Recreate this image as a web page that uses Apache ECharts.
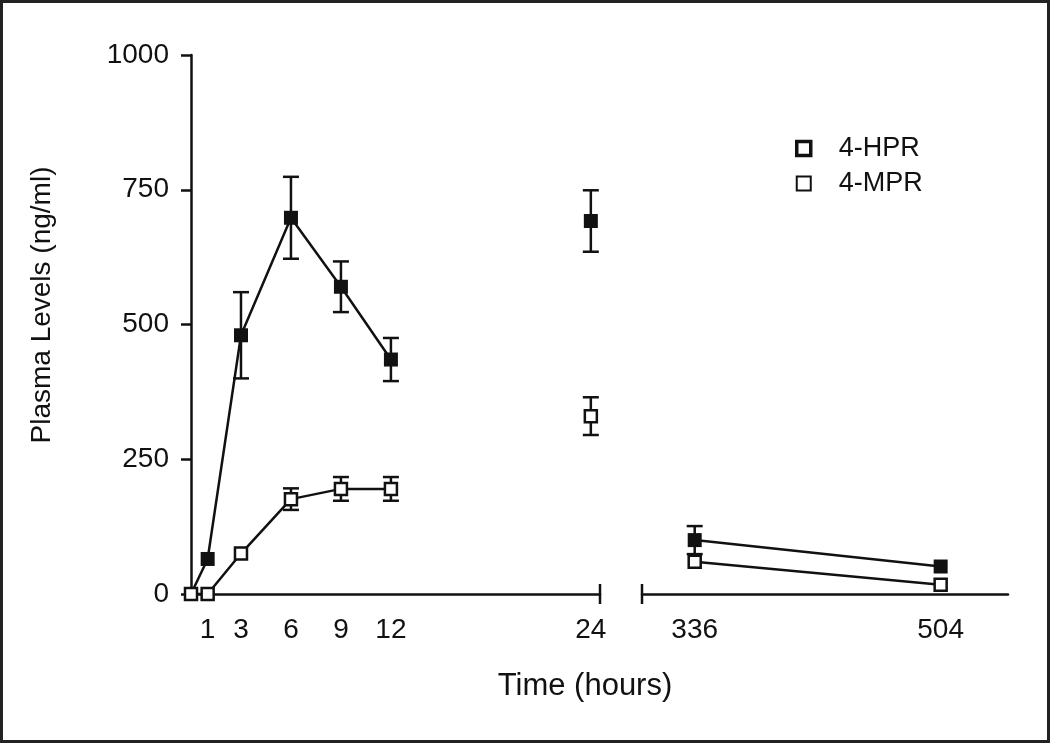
<!DOCTYPE html>
<html>
<head>
<meta charset="utf-8">
<script src="https://cdn.jsdelivr.net/npm/echarts@6/dist/echarts.min.js"></script>
<style>
  html, body { margin: 0; padding: 0; background: #fff; }
  #chart { width: 1050px; height: 743px; }
</style>
</head>
<body>
<div id="chart"></div>
<script>
// sampling times (hours) and plasma levels (ng/ml), mean and error half-width
var times   = [0, 1, 3, 6, 9, 12, 24, 336, 504];
var hprMean = [0, 65, 480, 698, 570, 435, 692, 100, 51];
var hprErr  = [0, 0, 80, 76, 47, 40, 57, 26, 0];
var mprMean = [0, 0, 75, 176, 195, 195, 330, 60, 17];
var mprErr  = [0, 0, 0, 20, 22, 22, 35, 0, 0];

var xTicksEarly = [1, 3, 6, 9, 12, 24];
var xTicksLate  = [336, 504];
var yTicks      = [0, 250, 500, 750, 1000];

var INK = '#111';
var FONT = 'Liberation Sans';

// which piece of the broken axis each time belongs to
function pick(values, test) {
    var out = [];
    for (var i = 0; i < times.length; i++) {
        if (test(times[i])) out.push([times[i], values[i]]);
    }
    return out;
}
function bars(mean, err, test) {
    var out = [];
    for (var i = 0; i < times.length; i++) {
        if (test(times[i]) && err[i] > 0) out.push([times[i], mean[i] - err[i], mean[i] + err[i]]);
    }
    return out;
}
var isLine = function (t) { return t <= 12; };
var isLone = function (t) { return t === 24; };
var isLate = function (t) { return t >= 336; };
var isEarly = function (t) { return t <= 24; };

function errorBars(name, data, grid) {
    return {
        name: name,
        type: 'custom',
        xAxisIndex: grid,
        yAxisIndex: grid,
        z: 1,
        data: data,
        renderItem: function (params, api) {
            var x = api.value(0);
            var lo = api.coord([x, api.value(1)]);
            var hi = api.coord([x, api.value(2)]);
            var w = 8;
            var st = { stroke: INK, lineWidth: 2.5 };
            return {
                type: 'group',
                children: [
                    { type: 'line', shape: { x1: lo[0], y1: lo[1], x2: hi[0], y2: hi[1] }, style: st },
                    { type: 'line', shape: { x1: hi[0] - w, y1: hi[1], x2: hi[0] + w, y2: hi[1] }, style: st },
                    { type: 'line', shape: { x1: lo[0] - w, y1: lo[1], x2: lo[0] + w, y2: lo[1] }, style: st }
                ]
            };
        }
    };
}

var hprStyle = { color: INK, opacity: 1 };
var mprStyle = { color: '#fff', borderColor: INK, borderWidth: 2.5, opacity: 1 };

function marks(name, type, data, grid, style, size, z) {
    return {
        name: name,
        type: type,
        xAxisIndex: grid,
        yAxisIndex: grid,
        data: data,
        symbol: 'rect',
        symbolSize: size,
        showSymbol: true,
        itemStyle: style,
        lineStyle: { color: INK, width: 2.5 },
        z: z,
        silent: true
    };
}

var axisLineStyle = { color: INK, width: 2.5 };
var labelStyle = { fontSize: 28, color: INK, fontFamily: FONT };

var chartDom = document.getElementById('chart');
var chart = echarts.init(chartDom);

var option = {
    animation: false,
    backgroundColor: '#fff',
    textStyle: { fontFamily: FONT },
    grid: [
        { left: 191, top: 55, width: 409, height: 539 },
        { left: 642, top: 55, width: 366, height: 539 }
    ],
    legend: {
        orient: 'vertical',
        left: 790,
        top: 130,
        itemWidth: 14,
        itemHeight: 14,
        itemGap: 8,
        textStyle: { fontSize: 27, color: INK, fontFamily: FONT, lineHeight: 27, padding: [0, 0, 0, 23] },
        data: [
            { name: '4-HPR', icon: 'rect', itemStyle: { color: '#fff', borderColor: INK, borderWidth: 3.5 } },
            { name: '4-MPR', icon: 'rect', itemStyle: { color: '#fff', borderColor: INK, borderWidth: 2 } }
        ]
    },
    xAxis: [
        {
            gridIndex: 0, type: 'value', min: 0, max: 24.55,
            axisLine: { onZero: false, lineStyle: axisLineStyle },
            axisTick: { show: false },
            splitLine: { show: false },
            axisLabel: Object.assign({ customValues: xTicksEarly, margin: 22 }, labelStyle)
        },
        {
            gridIndex: 1, type: 'value', min: 300, max: 550,
            axisLine: { onZero: false, lineStyle: axisLineStyle },
            axisTick: { show: false },
            splitLine: { show: false },
            axisLabel: Object.assign({ customValues: xTicksLate, margin: 22 }, labelStyle)
        }
    ],
    yAxis: [
        {
            gridIndex: 0, type: 'value', min: 0, max: 1000, interval: 250,
            axisLine: { show: true, lineStyle: axisLineStyle },
            axisTick: { show: true, length: 10, lineStyle: axisLineStyle },
            splitLine: { show: false },
            axisLabel: Object.assign({
                customValues: yTicks, margin: 22,
                formatter: function (v) { return String(v); }
            }, labelStyle)
        },
        {
            gridIndex: 1, type: 'value', min: 0, max: 1000, show: false
        }
    ],
    series: [
        errorBars('4-HPR', bars(hprMean, hprErr, isEarly), 0),
        errorBars('4-MPR', bars(mprMean, mprErr, isEarly), 0),
        errorBars('4-HPR', bars(hprMean, hprErr, isLate), 1),
        errorBars('4-MPR', bars(mprMean, mprErr, isLate), 1),
        marks('4-HPR', 'line', pick(hprMean, isLine), 0, hprStyle, 14, 3),
        marks('4-HPR', 'scatter', pick(hprMean, isLone), 0, hprStyle, 14, 3),
        marks('4-HPR', 'line', pick(hprMean, isLate), 1, hprStyle, 14, 3),
        marks('4-MPR', 'line', pick(mprMean, isLine), 0, mprStyle, 12, 4),
        marks('4-MPR', 'scatter', pick(mprMean, isLone), 0, mprStyle, 12, 4),
        marks('4-MPR', 'line', pick(mprMean, isLate), 1, mprStyle, 12, 4)
    ]
};

if (option && typeof option === 'object') {
    chart.setOption(option, true);
}

// break marks at the ends of the two axis pieces, placed from the axis scales
var endA = chart.convertToPixel({ gridIndex: 0 }, [24.55, 0]);
var startB = chart.convertToPixel({ gridIndex: 1 }, [300, 0]);
var tickStyle = { stroke: INK, lineWidth: 2.5 };

chart.setOption({
    graphic: [
        { type: 'rect', shape: { x: 1.5, y: 1.5, width: 1047, height: 740 },
          style: { fill: 'none', stroke: '#222', lineWidth: 3 }, silent: true },
        { type: 'line', shape: { x1: endA[0], y1: endA[1] - 10, x2: endA[0], y2: endA[1] + 10 }, style: tickStyle },
        { type: 'line', shape: { x1: startB[0], y1: startB[1] - 10, x2: startB[0], y2: startB[1] + 10 }, style: tickStyle },
        { type: 'text', x: 585, y: 686,
          style: { text: 'Time (hours)', fontSize: 31, fontFamily: FONT, fill: INK, align: 'center', verticalAlign: 'middle' } },
        { type: 'text', x: 42, y: 305, rotation: Math.PI / 2,
          style: { text: 'Plasma Levels (ng/ml)', fontSize: 28, fontFamily: FONT, fill: INK, align: 'center', verticalAlign: 'middle' } }
    ]
});
</script>
</body>
</html>
